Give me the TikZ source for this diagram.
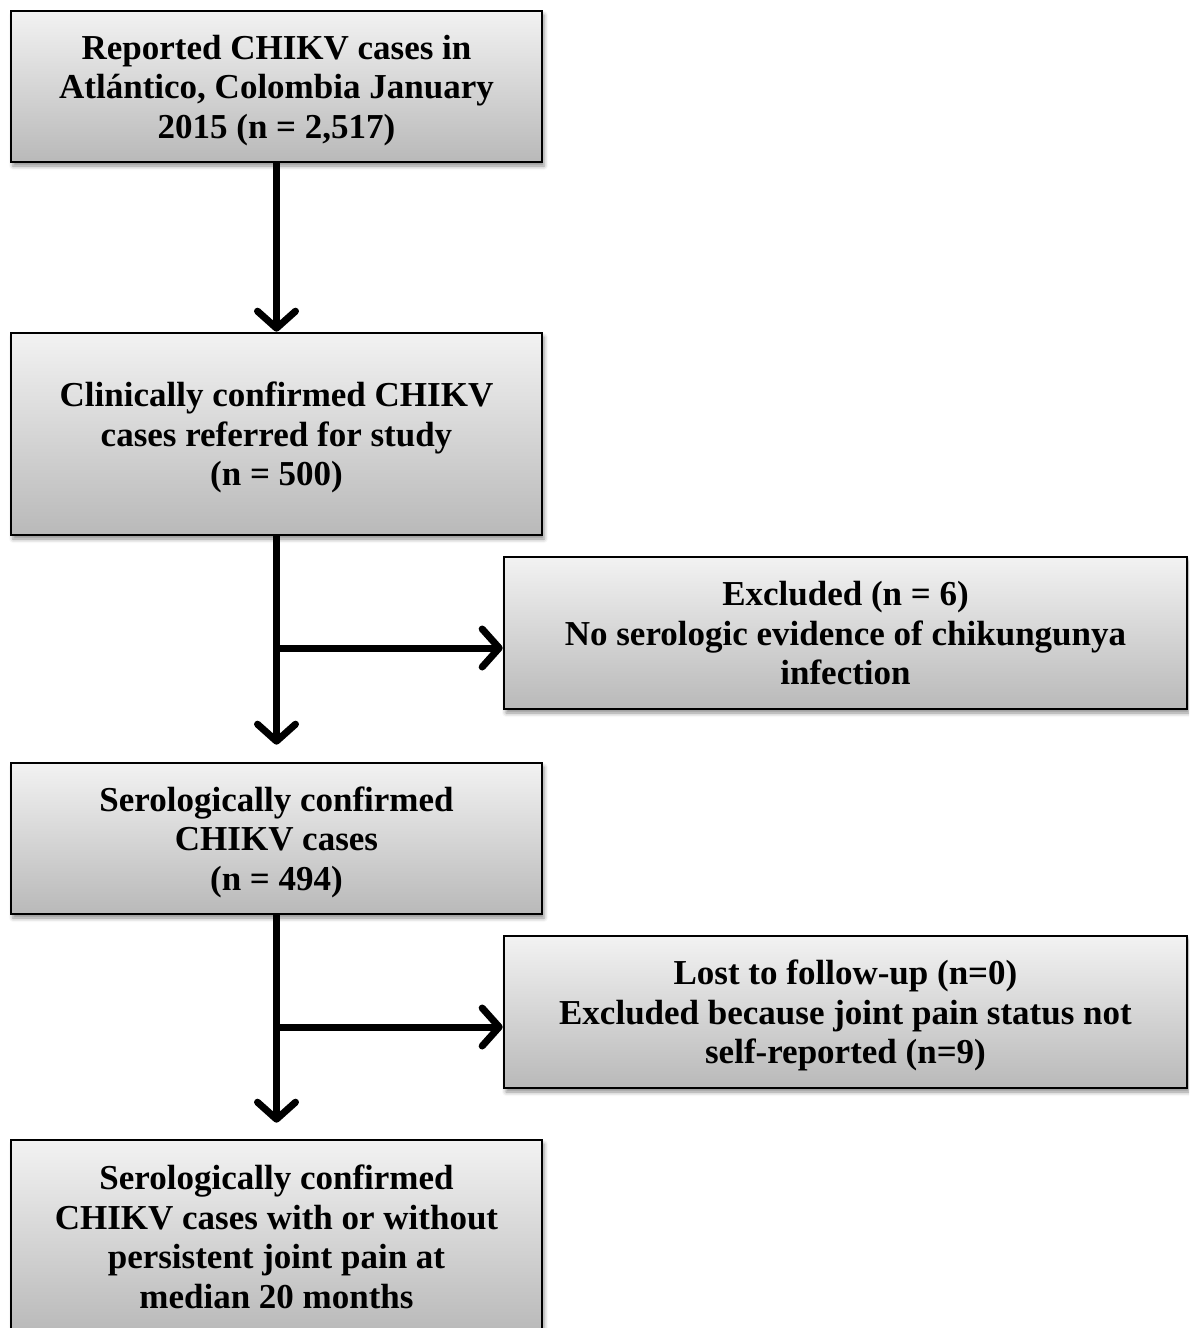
\documentclass[tikz,border=0pt]{standalone}
\usepackage{fontspec}
\setmainfont[FakeStretch=1.0]{Liberation Serif}
\usetikzlibrary{arrows.meta,shadows.blur}
\begin{document}
\begin{tikzpicture}[x=1pt,y=-1pt,
  flowbox/.style={draw=black, line width=2.6pt, top color=gray!10, bottom color=gray!55,
    align=center, inner sep=0pt, text depth=0pt, font=\fontsize{35}{39.6}\selectfont\bfseries,
    blur shadow={shadow xshift=2pt, shadow yshift=-4pt, shadow blur radius=4pt, shadow opacity=45}},
  conn/.style={line width=7pt, -{Straight Barb[length=17pt,width=38pt,round]}}]
\useasboundingbox (0,0) rectangle (1189,1328);
\begin{scope}
\clip (0,0) rectangle (1189,1328);
\node[flowbox, minimum width=531pt, minimum height=151pt] (b1) at (276.5,86.5)
  {Reported CHIKV cases in\\Atlántico, Colombia January\\2015 (n = 2,517)};
\node[flowbox, minimum width=531pt, minimum height=202pt] (b2) at (276.5,434)
  {Clinically confirmed CHIKV\\cases referred for study\\(n = 500)};
\node[flowbox, minimum width=683pt, minimum height=152pt] (b3) at (845.5,633)
  {Excluded (n = 6)\\No serologic evidence of chikungunya\\infection};
\node[flowbox, minimum width=531pt, minimum height=151pt] (b4) at (276.5,838.5)
  {Serologically confirmed\\CHIKV cases\\(n = 494)};
\node[flowbox, minimum width=683pt, minimum height=152pt] (b5) at (845.5,1012)
  {Lost to follow-up (n=0)\\Excluded because joint pain status not\\self-reported (n=9)};
\node[flowbox, minimum width=531pt, minimum height=194pt, text depth=] (b6) at (276.5,1237)
  {Serologically confirmed\\CHIKV cases with or without\\persistent joint pain at\\median 20 months};
\end{scope}
\coordinate (j1) at (276.5,648);
\coordinate (j2) at (276.5,1027);
\draw[conn] (b1.south) -- (b2.north);
\draw[conn, shorten >=17pt] (b2.south) -- (b4.north);
\draw[conn] (j1) -- (b3.west |- j1);
\draw[conn, shorten >=16pt] (b4.south) -- (b6.north);
\draw[conn] (j2) -- (b5.west |- j2);
\end{tikzpicture}
\end{document}
